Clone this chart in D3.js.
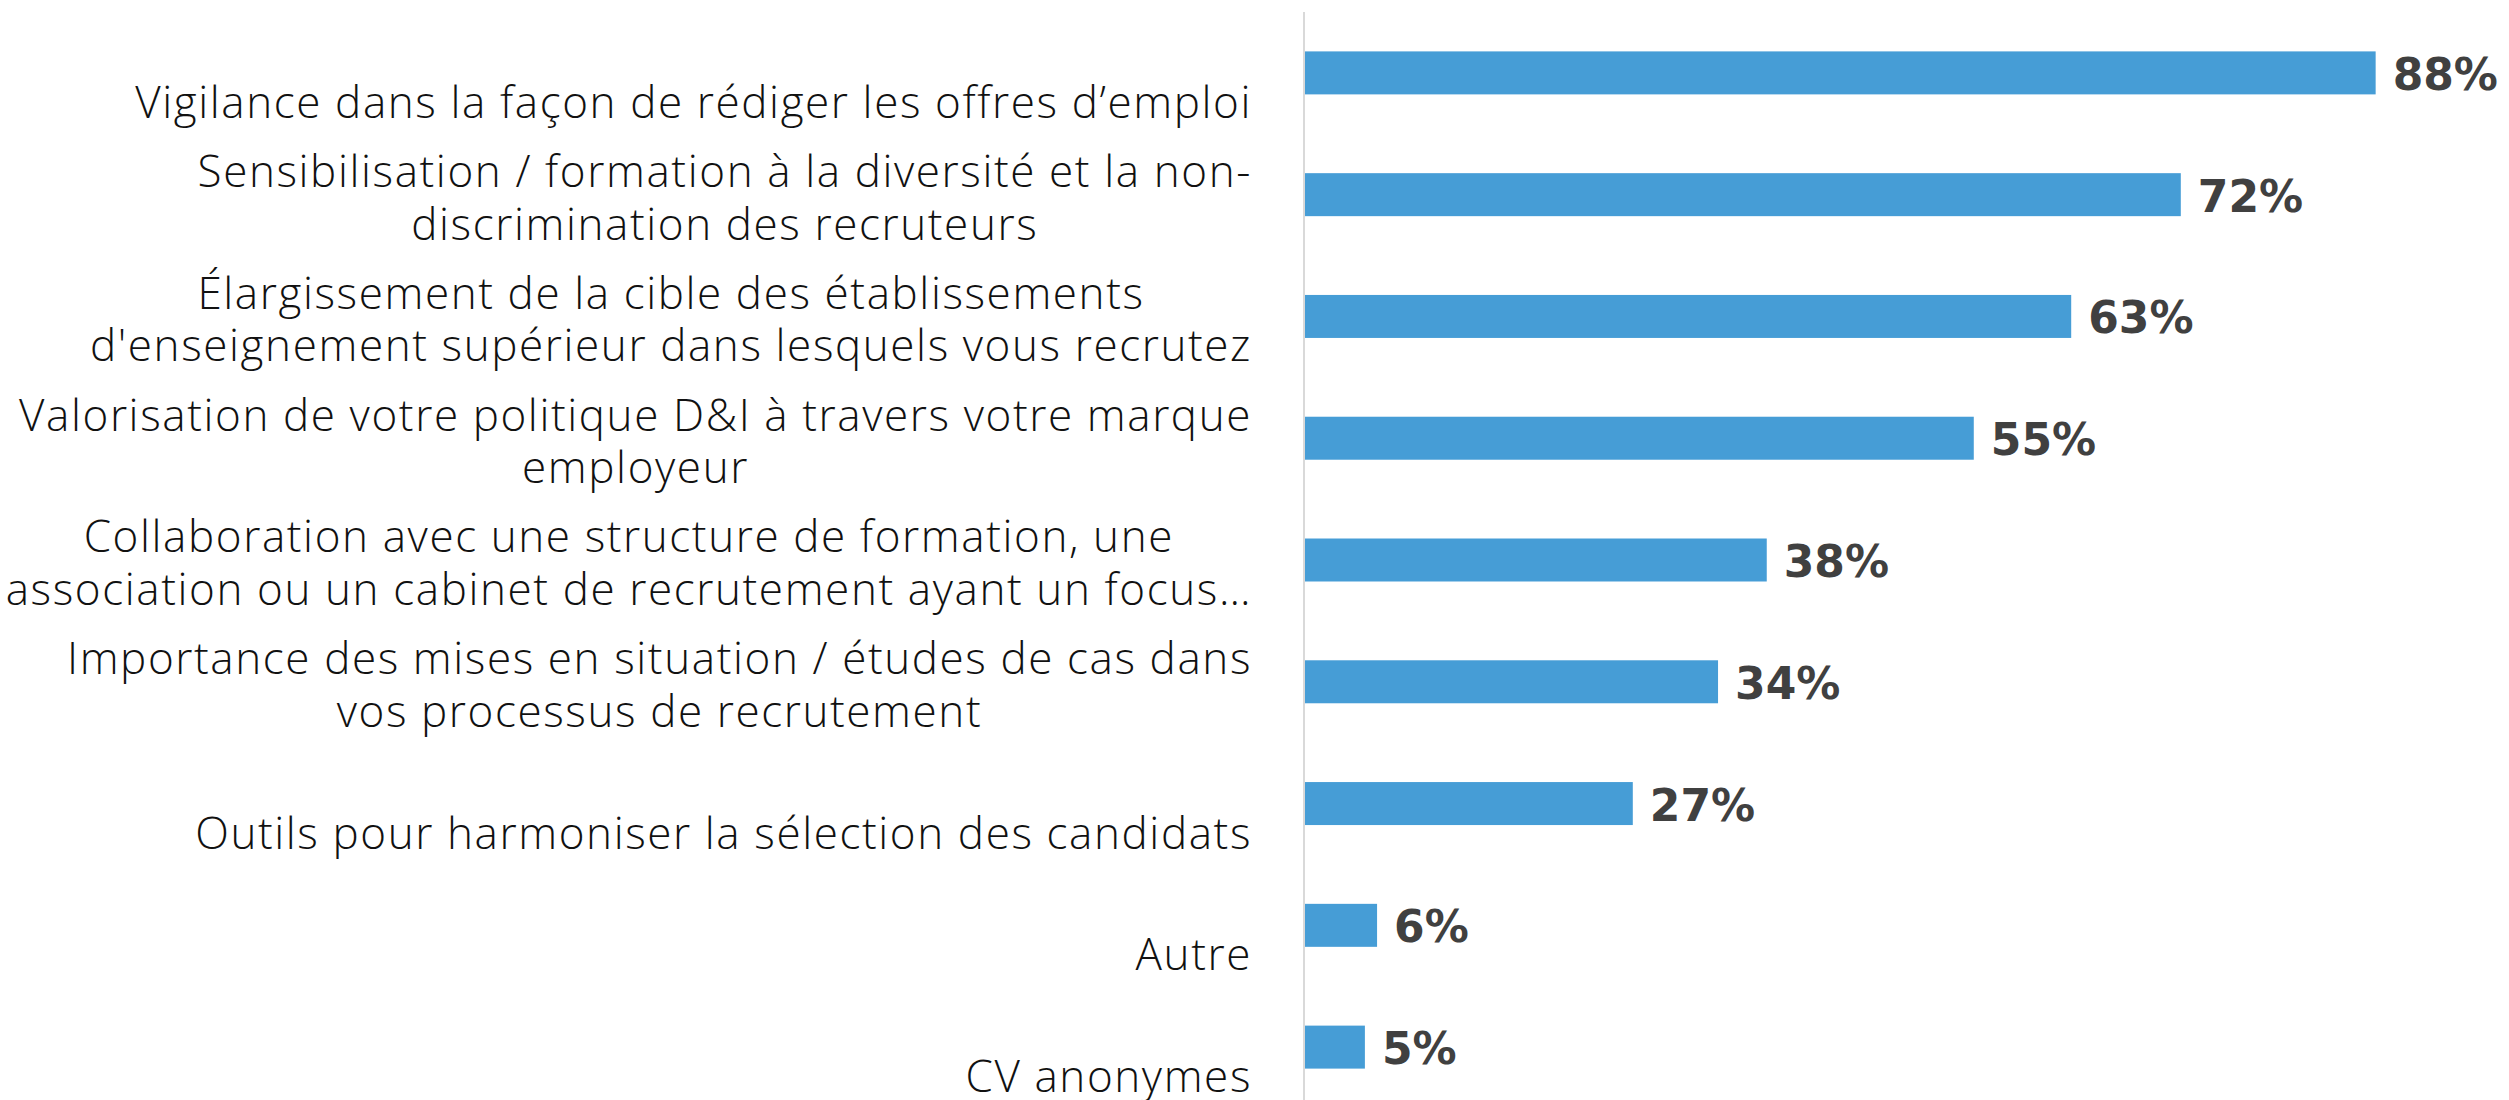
<!DOCTYPE html>
<html>
<head>
<meta charset="utf-8">
<script src="https://cdn.jsdelivr.net/npm/d3@7"></script>
<style>
  body { margin: 0; background: #ffffff; }
  .cat_label { font-family: "Open Sans", "Noto Sans", sans-serif; font-weight: 300; fill: #111111; letter-spacing: 1.6px; }
  .value_label { font-family: "DejaVu Sans", sans-serif; font-weight: bold; fill: #404040; }
</style>
</head>
<body>
<div id="chart"></div>
<script>
// categories (each one is a list of lines, as in the original)
var categories = [
  ["Vigilance dans la façon de rédiger les offres d’emploi"],
  ["Sensibilisation / formation à la diversité et la non-", "discrimination des recruteurs"],
  ["Élargissement de la cible des établissements", "d'enseignement supérieur dans lesquels vous recrutez"],
  ["Valorisation de votre politique D&I à travers votre marque", "employeur"],
  ["Collaboration avec une structure de formation, une", "association ou un cabinet de recrutement ayant un focus…"],
  ["Importance des mises en situation / études de cas dans", "vos processus de recrutement"],
  ["Outils pour harmoniser la sélection des candidats"],
  ["Autre"],
  ["CV anonymes"]
];
var values = [0.88, 0.72, 0.63, 0.55, 0.38, 0.34, 0.27, 0.06, 0.05];

var width = 2509;
var height = 1100;
var axisX = 1304;
var labelRight = 1252;
var lineStep = 52.7;

var svgContainer = d3.select("#chart")
                     .append("svg")
                     .attr("width", width)
                     .attr("height", height);

var data = categories.map(function(c, i) { return {id: i, lines: c, value: values[i]}; });

var x = d3.scaleLinear()
          .domain([0, 0.9])
          .range([axisX, 2400]);

var y = d3.scaleBand()
          .domain(data.map(function(d) { return d.id; }))
          .range([12, 1108])
          .paddingInner(0.647)
          .paddingOuter(0.3235);

// bars
svgContainer.append("g")
            .selectAll("rect")
            .data(data)
            .enter()
            .append("rect")
            .attr("x", x(0))
            .attr("y", function(d) { return y(d.id); })
            .attr("width", function(d) { return x(d.value) - x(0); })
            .attr("height", y.bandwidth())
            .style("fill", "#469dd6");

// vertical axis line
svgContainer.append("line")
            .attr("x1", axisX).attr("x2", axisX)
            .attr("y1", 12).attr("y2", height)
            .style("stroke", "#d9d9d9")
            .style("stroke-width", 2);

// value labels
svgContainer.append("g")
            .selectAll("text")
            .data(data)
            .enter()
            .append("text")
            .attr("class", "value_label")
            .attr("x", function(d) { return x(d.value) + 17; })
            .attr("y", function(d) { return y(d.id) + y.bandwidth() / 2 + 17; })
            .style("font-size", "44px")
            .text(function(d) { return d3.format(".0%")(d.value); });

// category labels: lines centered on each other, block right aligned
var labelGroups = svgContainer.append("g")
                              .selectAll("g")
                              .data(data)
                              .enter()
                              .append("g");

labelGroups.each(function(d) {
  var g = d3.select(this);
  var mid = y(d.id) + y.bandwidth() / 2;
  var n = d.lines.length;
  var texts = g.selectAll("text")
               .data(d.lines)
               .enter()
               .append("text")
               .attr("class", "cat_label")
               .style("font-size", "44px")
               .attr("text-anchor", "middle")
               .attr("y", function(l, i) { return mid + 45 - (n - 1 - i) * lineStep; })
               .text(function(l) { return l; });
  var maxW = 0;
  texts.each(function() { maxW = Math.max(maxW, this.getComputedTextLength()); });
  texts.attr("x", labelRight - maxW / 2);
});
</script>
</body>
</html>
